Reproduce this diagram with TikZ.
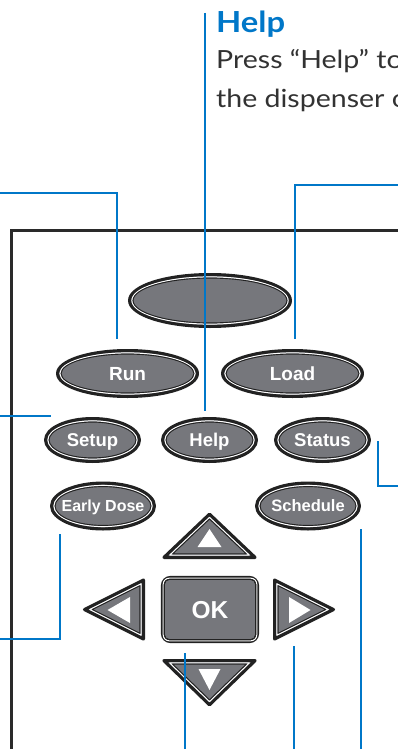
\documentclass[tikz,border=0pt]{standalone}
\usepackage{graphicx}
\usepackage{fontspec}
\setmainfont{Liberation Sans}
\newfontfamily\latofont{Lato}
\usetikzlibrary{calc}
\definecolor{leadblue}{RGB}{0,119,200}
\definecolor{btngray}{RGB}{118,119,124}
\definecolor{btnedge}{RGB}{34,34,34}
\definecolor{framecol}{RGB}{42,42,42}
\definecolor{bodytext}{RGB}{50,50,50}
\tikzset{
 lead/.style={draw=leadblue, line width=2pt},
 btnface/.style={fill=btngray, draw=btnedge, line width=3.2pt, line join=round},
 ringw/.style={draw=white, line width=1pt, line join=round},
 ringb/.style={draw=btnedge, line width=0.9pt, line join=round},
 lbl/.style={text=white, inner sep=0pt, text depth=0pt, font=\bfseries\fontsize{#1}{#1}\selectfont},
 arrowglyph/.style={fill=white},
 calloutbody/.style={anchor=base west, inner sep=0pt, text=bodytext, font=\latofont\fontsize{25}{25}\selectfont},
}
\newcommand\btn[7]{%
 \path[btnface] (#2,#3) ellipse [x radius=#4-1.6, y radius=#5-1.6];
 \path[ringw] (#2,#3) ellipse [x radius=#4-3.9, y radius=#5-3.9];
 \path[ringb] (#2,#3) ellipse [x radius=#4-5.1, y radius=#5-5.1];
 \pgfmathsetmacro\capH{0.716*#7}%
 \node[lbl=#7, text height=\capH pt] (#1) at (#2,#3) {#6};
}
\newcommand\tribtn[5]{%
 \pgfmathsetmacro\sA{(#5-1.6)/#5}%
 \pgfmathsetmacro\sB{(#5-3.9)/#5}%
 \pgfmathsetmacro\sC{(#5-5.1)/#5}%
 \path[btnface, scale around={\sA:#4}] #1 -- #2 -- #3 -- cycle;
 \path[ringw, scale around={\sB:#4}] #1 -- #2 -- #3 -- cycle;
 \path[ringb, scale around={\sC:#4}] #1 -- #2 -- #3 -- cycle;
}
\begin{document}
\begin{tikzpicture}[x=1pt, y=-1pt]
\useasboundingbox (0,0) rectangle (398,749);
\clip (0,0) rectangle (398,749);
\fill[white] (0,0) rectangle (398,749);

% device frame
\draw[framecol, line width=3pt, line join=miter] (11,770) -- (11,230) -- (420,230);

% oval buttons
\btn{topbtn}{210}{300.5}{82}{27.5}{}{18}
\btn{run}{127.5}{373.5}{71.5}{24.5}{Run}{19}
\btn{load}{292.5}{373.5}{71.5}{24.5}{Load}{19}
\btn{setup}{92.5}{440}{48.5}{23}{Setup}{18.5}
\btn{help}{209.5}{440}{48.5}{23}{Help}{18.5}
\btn{status}{322.5}{440}{48.5}{23}{Status}{18.5}
\btn{early}{103}{506}{53}{24.5}{Early Dose}{16}
\btn{sched}{308}{506}{53}{24.5}{Schedule}{16.5}

% arrow buttons
\tribtn{(209.5,512)}{(259,559)}{(160,559)}{(209.5,539.2)}{19.8}
\fill[arrowglyph] (209.5,529) -- (221.5,547) -- (197.5,547) -- cycle;
\tribtn{(160,659)}{(259,659)}{(209.5,707)}{(209.5,679)}{20.0}
\fill[arrowglyph] (198.5,669) -- (220.5,669) -- (209.5,690) -- cycle;
\tribtn{(81,609.5)}{(145,577.5)}{(145,641.5)}{(125.2,609.5)}{19.8}
\fill[arrowglyph] (107.5,610) -- (130,597) -- (130,623) -- cycle;
\tribtn{(273,577.5)}{(337,609.5)}{(273,641.5)}{(292.8,609.5)}{19.8}
\fill[arrowglyph] (289,597) -- (310.5,610) -- (289,623) -- cycle;

% OK button
\node[btnface, lbl=24.5, text height=17.5pt, rectangle, rounded corners=8pt,
      minimum width=95pt, minimum height=64pt] (okbtn) at (210,609.5) {OK};
\draw[ringw, rounded corners=6pt] ([shift={(2.3,2.3)}]okbtn.north west) rectangle ([shift={(-2.3,-2.3)}]okbtn.south east);
\draw[ringb, rounded corners=5pt] ([shift={(3.5,3.5)}]okbtn.north west) rectangle ([shift={(-3.5,-3.5)}]okbtn.south east);

% help callout text
\node[anchor=base west, inner sep=0pt, text=leadblue, font=\latofont\bfseries\fontsize{29}{29}\selectfont] (helptitle) at (216,33) {\scalebox{1.13}[1]{Help}};
\node[calloutbody] (helpline1) at (216,69) {\scalebox{1.14}[1]{Press “Help” to}};
\node[calloutbody] (helpline2) at (216,107) {\scalebox{1.14}[1]{the dispenser o}};

% leader lines
\coordinate (runA) at (-5,193);  \coordinate (runB) at (117,339);
\coordinate (helpA) at (205,13); \coordinate (helpB) at (205,411);
\coordinate (loadA) at (405,185); \coordinate (loadB) at (295,339);
\coordinate (setupA) at (-5,416); \coordinate (setupB) at (51,416);
\coordinate (statusA) at (378,441); \coordinate (statusB) at (405,486);
\coordinate (earlyA) at (60,534); \coordinate (earlyB) at (-5,639);
\coordinate (okA) at (185,653); \coordinate (okB) at (185,760);
\coordinate (rightA) at (294,646); \coordinate (rightB) at (294,760);
\coordinate (schedA) at (361,529); \coordinate (schedB) at (361,760);

\draw[lead] (runA) -| (runB);
\draw[lead] (helpA) -- (helpB);
\draw[lead] (loadA) -| (loadB);
\draw[lead] (setupA) -- (setupB);
\draw[lead] (statusA) |- (statusB);
\draw[lead] (earlyA) |- (earlyB);
\draw[lead] (okA) -- (okB);
\draw[lead] (rightA) -- (rightB);
\draw[lead] (schedA) -- (schedB);
\end{tikzpicture}
\end{document}
